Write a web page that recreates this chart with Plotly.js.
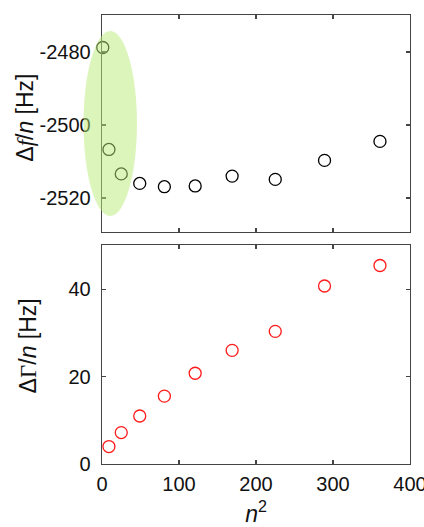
<!DOCTYPE html>
<html>
<head>
<meta charset="utf-8">
<script src="https://cdn.plot.ly/plotly-3.0.1.min.js"></script>
<style>html,body{margin:0;padding:0;background:#fff;}</style>
</head>
<body>
<div id="chart" style="width:424px;height:527px;"></div>
<script>
// Top panel: Δf/n vs n²
var xTop = [1, 9, 25, 49, 81, 121, 169, 225, 289, 361];
var dfTop = [-2478.8, -2506.7, -2513.4, -2516.0, -2516.9, -2516.7, -2514.0, -2514.9, -2509.7, -2504.5];
// Bottom panel: ΔΓ/n vs n²
var xBot = [9, 25, 49, 81, 121, 169, 225, 289, 361];
var dgBot = [4.0, 7.2, 11.0, 15.55, 20.8, 26.05, 30.4, 40.8, 45.5];
var xTicks = [0, 100, 200, 300, 400];
var yTopTicks = [-2480, -2500, -2520];
var yBotTicks = [0, 20, 40];

var lineCol = '#444';
var font = {family: 'Arial, "Liberation Sans", sans-serif', size: 20, color: '#111'};
var titleFont = {family: 'Arial, "Liberation Sans", sans-serif', size: 23, color: '#111'};
var serif = "font-family:'Liberation Serif',serif";
var topTitle = 'Δ<i><span style="' + serif + '">f</span></i>/<i>n</i> [Hz]';
var botTitle = 'Δ<span style="' + serif + '">Γ</span>/<i>n</i> [Hz]';

var traces = [
  {x: xTop, y: dfTop, xaxis: 'x', yaxis: 'y', mode: 'markers', type: 'scatter',
   marker: {symbol: 'circle-open', size: 12, color: '#000', line: {width: 1.3, color: '#000'}},
   cliponaxis: false},
  {x: xBot, y: dgBot, xaxis: 'x2', yaxis: 'y2', mode: 'markers', type: 'scatter',
   marker: {symbol: 'circle-open', size: 12, color: '#ff1a1a', line: {width: 1.3, color: '#ff1a1a'}},
   cliponaxis: false}
];

function axBase() {
  return {showline: true, linecolor: lineCol, linewidth: 1.3, mirror: 'ticks',
          ticks: 'inside', ticklen: 4, tickwidth: 1.2, tickcolor: lineCol,
          showgrid: false, zeroline: false, tickfont: font, ticklabeloverflow: 'allow'};
}

var xa = axBase();
Object.assign(xa, {range: [0, 400], tickvals: xTicks, showticklabels: false, anchor: 'y', domain: [0, 1]});
var xa2 = axBase();
Object.assign(xa2, {range: [0, 400], tickvals: xTicks, ticktext: xTicks.map(String), anchor: 'y2', domain: [0, 1],
  ticklabelstandoff: 2,
  title: {text: '<i>n</i><sup>2</sup>', font: titleFont, standoff: 14}});
var ya = axBase();
Object.assign(ya, {range: [-2529.3, -2469.9], tickvals: yTopTicks, ticktext: yTopTicks.map(String), anchor: 'x', domain: [0.5167, 1],
  ticklabelstandoff: 6});
var ya2 = axBase();
Object.assign(ya2, {range: [0, 50.2], tickvals: yBotTicks, ticktext: yBotTicks.map(String), anchor: 'x2', domain: [0, 0.4878],
  ticklabelstandoff: 6});

var layout = {
  width: 424, height: 527,
  margin: {l: 102, r: 14, t: 15, b: 63},
  paper_bgcolor: '#fff', plot_bgcolor: '#fff',
  showlegend: false,
  font: font,
  xaxis: xa, xaxis2: xa2, yaxis: ya, yaxis2: ya2,
  annotations: [
    {text: topTitle, xref: 'paper', yref: 'y domain', x: -0.249, y: 0.528, xanchor: 'center', yanchor: 'middle',
     textangle: -90, showarrow: false, font: titleFont},
    {text: botTitle, xref: 'paper', yref: 'y2 domain', x: -0.242, y: 0.539, xanchor: 'center', yanchor: 'middle',
     textangle: -90, showarrow: false, font: titleFont}
  ],
  shapes: [{
    type: 'circle', xref: 'x domain', yref: 'y domain',
    x0: -0.060, x1: 0.1135, y0: 0.074, y1: 0.926,
    fillcolor: 'rgba(185,235,120,0.5)', line: {width: 0}, layer: 'above'
  }]
};

Plotly.newPlot('chart', traces, layout, {staticPlot: true, displayModeBar: false});
</script>
</body>
</html>
